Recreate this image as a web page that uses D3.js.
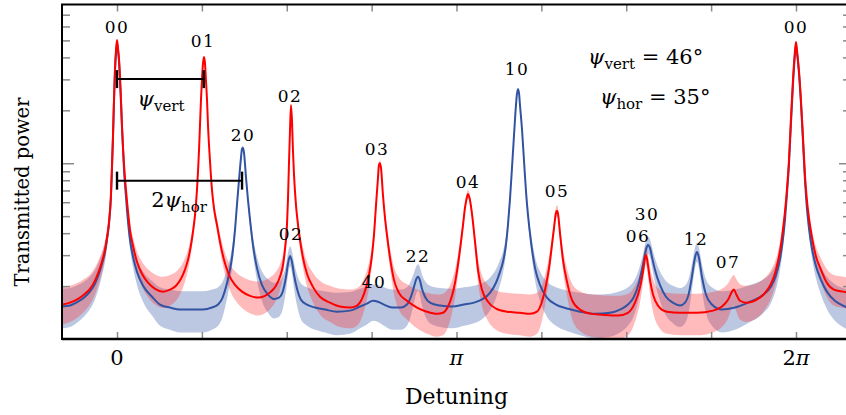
<!DOCTYPE html>
<html>
<head>
<meta charset="utf-8">
<script src="https://cdnjs.cloudflare.com/ajax/libs/d3/7.8.5/d3.min.js"></script>
<style>
body { margin: 0; background: #fff; }
svg text { font-family: "DejaVu Serif", "Liberation Serif", serif; fill: #000; }
</style>
</head>
<body>
<svg id="chart" width="846" height="415"></svg>
<script>

// detuning in rad, transmitted power in arb. units (log axis)
var redDetuning = [-0.509,-0.435,-0.361,-0.296,-0.250,-0.204,-0.167,-0.139,-0.111,-0.093,
    -0.074,-0.056,-0.046,-0.037,-0.028,-0.019,-0.009,0,0.009,0.019,
    0.028,0.037,0.046,0.065,0.083,0.102,0.120,0.148,0.185,0.231,
    0.287,0.352,0.426,0.490,0.546,0.592,0.629,0.657,0.685,0.703,
    0.722,0.740,0.759,0.768,0.777,0.786,0.796,0.805,0.814,0.823,
    0.833,0.842,0.860,0.879,0.897,0.925,0.953,0.990,1.036,1.092,
    1.157,1.231,1.305,1.369,1.425,1.471,1.508,1.536,1.554,1.573,
    1.582,1.591,1.601,1.610,1.619,1.628,1.638,1.656,1.675,1.693,
    1.721,1.758,1.813,1.878,1.971,2.063,2.156,2.221,2.267,2.304,
    2.332,2.360,2.378,2.397,2.415,2.424,2.433,2.443,2.461,2.480,
    2.498,2.526,2.563,2.609,2.683,2.776,2.868,2.961,3.017,3.063,
    3.100,3.128,3.155,3.183,3.202,3.220,3.239,3.248,3.266,3.285,
    3.313,3.340,3.377,3.433,3.507,3.609,3.729,3.822,3.886,3.932,
    3.970,3.998,4.025,4.044,4.062,4.072,4.081,4.099,4.127,4.164,
    4.210,4.284,4.395,4.515,4.636,4.728,4.793,4.839,4.867,4.886,
    4.895,4.913,4.932,4.960,5.006,5.089,5.209,5.367,5.515,5.598,
    5.654,5.691,5.709,5.728,5.765,5.820,5.876,5.931,5.996,6.051,
    6.088,6.116,6.144,6.162,6.181,6.199,6.218,6.236,6.255,6.273,
    6.283,6.292,6.310,6.329,6.347,6.366,6.384,6.403,6.430,6.467,
    6.514,6.569,6.634,6.717,6.792];

var redPower = [1.57,1.61,1.69,1.81,1.93,2.15,2.44,2.75,3.22,3.76,
    4.64,6.61,9.78,14.5,22.9,33.9,44.0,50.2,45.2,38.6,
    30.5,22.9,16.5,9.78,7.05,5.29,4.18,3.39,2.75,2.35,
    2.09,1.93,1.86,1.91,2.01,2.20,2.48,2.82,3.43,4.07,
    5.08,7.05,11.9,16.5,22.9,29.7,37.1,40.2,37.1,29.7,
    22.9,16.5,10.4,7.05,5.57,4.46,3.57,2.82,2.32,2.03,
    1.86,1.76,1.72,1.76,1.86,2.01,2.26,2.64,3.22,4.46,
    6.19,9.78,15.5,21.4,17.6,11.9,8.59,5.80,4.46,3.67,
    2.90,2.35,1.98,1.74,1.61,1.53,1.51,1.55,1.69,1.96,
    2.32,3.01,3.91,5.80,8.26,9.78,10.0,9.40,6.61,4.89,
    3.91,2.90,2.17,1.83,1.65,1.51,1.43,1.39,1.41,1.53,
    1.76,2.09,2.64,3.57,4.46,5.57,6.44,6.69,6.19,5.15,
    3.57,2.48,1.91,1.63,1.49,1.43,1.41,1.39,1.43,1.63,
    2.03,2.54,3.43,4.29,5.22,5.36,5.15,4.02,2.82,2.12,
    1.67,1.47,1.39,1.37,1.36,1.41,1.61,1.96,2.41,2.90,
    3.01,2.64,2.17,1.79,1.55,1.43,1.41,1.41,1.45,1.53,
    1.67,1.86,1.91,1.81,1.65,1.61,1.63,1.69,1.83,2.06,
    2.35,2.75,3.43,4.18,5.29,7.05,10.4,17.6,29.7,42.9,
    48.9,44.0,33.9,22.9,14.5,8.59,6.19,4.89,3.81,2.97,
    2.48,2.09,1.91,1.86,1.83];

var blueDetuning = [-0.509,-0.435,-0.361,-0.296,-0.250,-0.204,-0.167,-0.139,-0.111,-0.093,
    -0.074,-0.056,-0.046,-0.037,-0.028,-0.019,-0.009,0,0.009,0.019,
    0.028,0.037,0.046,0.065,0.083,0.102,0.120,0.148,0.185,0.241,
    0.324,0.398,0.490,0.583,0.703,0.796,0.879,0.935,0.972,1.009,
    1.036,1.064,1.092,1.110,1.129,1.147,1.157,1.166,1.175,1.194,
    1.212,1.231,1.258,1.295,1.341,1.397,1.453,1.499,1.536,1.564,
    1.582,1.601,1.619,1.638,1.666,1.703,1.758,1.832,1.925,2.036,
    2.156,2.249,2.313,2.369,2.415,2.471,2.545,2.628,2.683,2.720,
    2.748,2.767,2.785,2.804,2.822,2.850,2.896,2.989,3.100,3.211,
    3.303,3.386,3.451,3.507,3.544,3.572,3.599,3.618,3.636,3.655,
    3.674,3.692,3.701,3.711,3.720,3.729,3.748,3.766,3.785,3.803,
    3.831,3.868,3.914,3.979,4.062,4.164,4.284,4.423,4.562,4.654,
    4.728,4.784,4.830,4.867,4.895,4.913,4.932,4.950,4.978,5.024,
    5.080,5.144,5.209,5.256,5.293,5.320,5.348,5.367,5.385,5.413,
    5.450,5.505,5.598,5.718,5.857,5.968,6.051,6.097,6.134,6.162,
    6.181,6.199,6.218,6.236,6.255,6.273,6.283,6.292,6.310,6.329,
    6.347,6.366,6.384,6.403,6.430,6.467,6.514,6.569,6.643,6.717,
    6.792];

var bluePower = [1.53,1.55,1.63,1.74,1.86,2.06,2.35,2.68,3.13,3.67,
    4.52,6.44,9.53,14.1,22.3,33.0,42.9,48.2,44.0,37.7,
    29.7,22.0,15.9,9.16,6.44,4.64,3.67,2.94,2.41,2.01,
    1.74,1.57,1.51,1.47,1.47,1.47,1.51,1.57,1.69,1.98,
    2.32,2.90,4.18,5.80,8.04,10.7,12.1,12.2,11.5,8.26,
    6.19,4.76,3.43,2.54,2.03,1.79,1.69,1.72,1.88,2.26,
    2.68,2.97,2.75,2.32,1.93,1.67,1.57,1.51,1.47,1.43,
    1.45,1.53,1.59,1.65,1.63,1.57,1.51,1.51,1.57,1.74,
    1.98,2.17,2.26,2.15,1.93,1.74,1.61,1.55,1.53,1.57,
    1.61,1.69,1.83,2.09,2.41,2.75,3.43,4.46,6.19,9.40,
    14.5,21.4,24.8,26.4,25.1,21.4,15.5,10.4,6.87,5.08,
    3.57,2.54,2.03,1.72,1.57,1.49,1.43,1.39,1.41,1.47,
    1.57,1.74,2.09,2.64,3.22,3.43,3.30,2.94,2.48,2.03,
    1.74,1.61,1.55,1.61,1.83,2.26,2.90,3.13,2.90,2.26,
    1.79,1.57,1.47,1.51,1.63,1.76,1.98,2.29,2.82,3.67,
    4.76,6.61,9.78,16.5,27.8,41.2,47.0,42.9,33.0,22.0,
    13.6,8.04,5.57,4.29,3.30,2.61,2.17,1.86,1.65,1.55,
    1.49];

// spread of the raw (unaveraged) traces around the smoothed ones: [below, above]
var redNoise = [0.36, 0.40];
var blueNoise = [0.38, 0.40];

var peakLabels = [
    {text: "00", x: 0,     y: 55.0},
    {text: "01", x: 0.796, y: 45.8},
    {text: "20", x: 1.166, y: 13.4},
    {text: "02", x: 1.601, y: 22.3},
    {text: "02", x: 1.610, y: 3.67},
    {text: "03", x: 2.406, y: 11.1},
    {text: "40", x: 2.378, y: 1.96},
    {text: "22", x: 2.785, y: 2.75},
    {text: "04", x: 3.248, y: 7.24},
    {text: "10", x: 3.701, y: 31.8},
    {text: "05", x: 4.072, y: 6.43},
    {text: "30", x: 4.904, y: 4.76},
    {text: "06", x: 4.821, y: 3.57},
    {text: "12", x: 5.358, y: 3.43},
    {text: "07", x: 5.654, y: 2.54},
    {text: "00", x: 6.283, y: 55.0}
];

var brackets = [
    {from: 0, to: 0.803, level: 30.1, label: ["", "ψ", "vert"], lx: 0.407, ly: 21.2},
    {from: 0, to: 1.157, level: 7.96, label: ["2", "ψ", "hor"], lx: 0.574, ly: 5.65}
];

var angleText = [
    {sub: "vert", value: " = 46°", x: 4.358, y: 36.6},
    {sub: "hor",  value: " = 35°", x: 4.469, y: 21.7}
];

var detuningTicks = [0, Math.PI/4, Math.PI/2, 3*Math.PI/4, Math.PI,
    5*Math.PI/4, 3*Math.PI/2, 7*Math.PI/4, 2*Math.PI];
var detuningLabels = [{x: 0, pre: "0", pi: ""}, {x: Math.PI, pre: "", pi: "π"}, {x: 2*Math.PI, pre: "2", pi: "π"}];
var powerTicks = [2,3,4,5,6,7,8,9,10,20,30,40,50,60,70];

var width = 846,
    height = 415,
    margins = {left: 62, right: -5, top: 4.5, bottom: 76};

var svg = d3.select("#chart");

var xScale = d3.scaleLinear()
    .domain([-0.509, 2*Math.PI + 0.509])
    .range([margins.left, width - margins.right]);
var yScale = d3.scaleLog()
    .domain([1, 80])
    .range([height - margins.bottom, margins.top]);

var red = redDetuning.map((d, i) => ({x: d, y: redPower[i]}));
var blue = blueDetuning.map((d, i) => ({x: d, y: bluePower[i]}));

svg.append("defs").append("clipPath").attr("id", "plotClip")
    .append("rect")
    .attr("x", margins.left)
    .attr("y", margins.top)
    .attr("width", width - margins.right - margins.left)
    .attr("height", height - margins.bottom - margins.top);

var plot = svg.append("g").attr("clip-path", "url(#plotClip)");

function band(noise) {
    return d3.area()
        .x(d => xScale(d.x))
        .y0(d => yScale(Math.max(0.5, d.y - noise[0])))
        .y1(d => yScale(d.y + noise[1]))
        .curve(d3.curveMonotoneX);
}

var line = d3.line()
    .x(d => xScale(d.x))
    .y(d => yScale(d.y))
    .curve(d3.curveMonotoneX);

plot.append("path")
    .attr("d", band(blueNoise)(blue))
    .attr("fill", "#4565b0")
    .attr("fill-opacity", 0.36);

plot.append("path")
    .attr("d", band(redNoise)(red))
    .attr("fill", "#ff3030")
    .attr("fill-opacity", 0.33);

plot.append("path")
    .attr("d", line(blue))
    .attr("fill", "none")
    .attr("stroke", "#3153a2")
    .attr("stroke-width", 2);

plot.append("path")
    .attr("d", line(red))
    .attr("fill", "none")
    .attr("stroke", "#ff0000")
    .attr("stroke-width", 2);

// ticks (all inward, grey)
var gBottom = svg.append("g")
    .attr("transform", "translate(0," + (height - margins.bottom) + ")")
    .call(d3.axisBottom(xScale).tickValues(detuningTicks).tickSizeInner(-7).tickSizeOuter(0).tickFormat(""));
var gTop = svg.append("g")
    .attr("transform", "translate(0," + margins.top + ")")
    .call(d3.axisTop(xScale).tickValues(detuningTicks).tickSizeInner(-7).tickSizeOuter(0).tickFormat(""));
var gLeft = svg.append("g")
    .attr("transform", "translate(" + margins.left + ",0)")
    .call(d3.axisLeft(yScale).tickValues(powerTicks).tickSizeInner(-8).tickSizeOuter(0).tickFormat(""));
var gRight = svg.append("g")
    .attr("transform", "translate(" + (width - margins.right) + ",0)")
    .call(d3.axisRight(yScale).tickValues(powerTicks).tickSizeInner(-8).tickSizeOuter(0).tickFormat(""));

[gBottom, gTop, gLeft, gRight].forEach(g => {
    g.select(".domain").remove();
    g.selectAll(".tick line")
        .attr("stroke", "#8a8a8a")
        .attr("stroke-width", 1.5);
});
gLeft.selectAll(".tick line").attr("x2", d => d === 10 ? 12 : 8);
gRight.selectAll(".tick line").attr("x2", d => d === 10 ? -12 : -8);

// frame
svg.append("rect")
    .attr("x", margins.left)
    .attr("y", margins.top)
    .attr("width", width - margins.right - margins.left)
    .attr("height", height - margins.bottom - margins.top)
    .attr("fill", "none")
    .attr("stroke", "#000")
    .attr("stroke-width", 2);
svg.append("line")
    .attr("x1", margins.left).attr("x2", width - margins.right)
    .attr("y1", height - margins.bottom).attr("y2", height - margins.bottom)
    .attr("stroke", "#000")
    .attr("stroke-width", 2.6);

// tick labels
var tl = svg.selectAll(".xlab").data(detuningLabels).enter().append("text")
    .attr("class", "xlab")
    .attr("x", d => xScale(d.x))
    .attr("y", 365)
    .attr("text-anchor", "middle")
    .style("font-size", "21px");
tl.append("tspan").text(d => d.pre);
tl.append("tspan").attr("font-style", "italic").text(d => d.pi);

svg.append("text")
    .attr("x", xScale(Math.PI))
    .attr("y", 404)
    .attr("text-anchor", "middle")
    .style("font-size", "22px")
    .text("Detuning");

svg.append("text")
    .attr("transform", "translate(29,192) rotate(-90)")
    .attr("text-anchor", "middle")
    .style("font-size", "19.5px")
    .text("Transmitted power");

// mode labels
svg.selectAll(".plab").data(peakLabels).enter().append("text")
    .attr("class", "plab")
    .attr("x", d => xScale(d.x))
    .attr("y", d => yScale(d.y))
    .attr("text-anchor", "middle")
    .style("font-size", "17px")
    .style("letter-spacing", "1.5px")
    .text(d => d.text);

// spacing brackets
brackets.forEach(b => {
    var yy = yScale(b.level);
    svg.append("line")
        .attr("x1", xScale(b.from)).attr("x2", xScale(b.to))
        .attr("y1", yy).attr("y2", yy)
        .attr("stroke", "#000").attr("stroke-width", 2);
    [b.from, b.to].forEach(v => {
        svg.append("line")
            .attr("x1", xScale(v)).attr("x2", xScale(v))
            .attr("y1", yy - 9).attr("y2", yy + 9)
            .attr("stroke", "#000").attr("stroke-width", 2.4);
    });
    var t = svg.append("text")
        .attr("x", xScale(b.lx))
        .attr("y", yScale(b.ly))
        .attr("text-anchor", "middle")
        .style("font-size", "21px");
    t.append("tspan").text(b.label[0]);
    t.append("tspan").attr("font-style", "italic").text(b.label[1]);
    t.append("tspan").attr("dy", 5).style("font-size", "15px").text(b.label[2]);
});

// mirror angles
angleText.forEach(a => {
    var t = svg.append("text")
        .attr("x", xScale(a.x))
        .attr("y", yScale(a.y))
        .style("font-size", "21px");
    t.append("tspan").attr("font-style", "italic").text("ψ");
    t.append("tspan").attr("dy", 5).style("font-size", "15px").text(a.sub);
    t.append("tspan").attr("dy", -5).text(a.value);
});

</script>
</body>
</html>
